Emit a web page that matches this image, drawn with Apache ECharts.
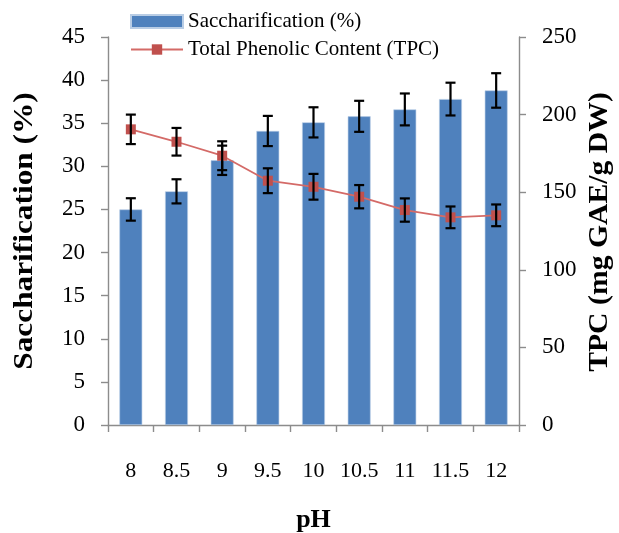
<!DOCTYPE html>
<html>
<head>
<meta charset="utf-8">
<script src="https://cdn.jsdelivr.net/npm/echarts@6/dist/echarts.min.js"></script>
<style>
html,body{margin:0;padding:0;background:#fff;}
#chart{width:619px;height:533px;}
</style>
</head>
<body>
<div id="chart"></div>
<script>
const categories = ['8','8.5','9','9.5','10','10.5','11','11.5','12'];
const saccharification = [25.0, 27.1, 30.7, 34.1, 35.1, 35.8, 36.6, 37.8, 38.8];
const saccharificationErr = [1.3, 1.4, 1.7, 1.75, 1.75, 1.8, 1.85, 1.9, 2.0];
const tpc = [190.5, 182.5, 173.5, 157.4, 153.5, 147.1, 138.5, 133.8, 135.1];
const tpcErr = [9.5, 8.9, 9.3, 8.0, 8.3, 7.5, 7.5, 7.0, 7.0];
const leftTicks = [0, 45, 5];
const rightTicks = [0, 250, 50];
const leftTitle = 'Saccharification (%)';
const rightTitle = 'TPC (mg GAE/g DW)';
const xTitle = 'pH';

const FONT = '"Liberation Serif", "Times New Roman", serif';

function errRenderer(params, api) {
  const x = api.value(0);
  const lo = api.coord([x, api.value(1)]);
  const hi = api.coord([x, api.value(2)]);
  const cap = 5;
  const style = {stroke: '#000', lineWidth: 2.2, fill: null};
  return {
    type: 'group',
    children: [
      {type: 'line', shape: {x1: lo[0], y1: lo[1], x2: hi[0], y2: hi[1]}, style: style},
      {type: 'line', shape: {x1: lo[0]-cap, y1: lo[1], x2: lo[0]+cap, y2: lo[1]}, style: style},
      {type: 'line', shape: {x1: hi[0]-cap, y1: hi[1], x2: hi[0]+cap, y2: hi[1]}, style: style}
    ]
  };
}

const barErrData = categories.map((c, i) => [i, saccharification[i] - saccharificationErr[i], saccharification[i] + saccharificationErr[i]]);
const tpcErrData = categories.map((c, i) => [i, tpc[i] - tpcErr[i], tpc[i] + tpcErr[i]]);

const axisLineStyle = {color: '#8c8c8c', width: 1.4};

const option = {
  animation: false,
  backgroundColor: '#fff',
  textStyle: {fontFamily: FONT},
  grid: {left: 108, right: 100, top: 37, bottom: 108, containLabel: false, outerBoundsMode: 'none'},
  legend: {
    orient: 'vertical',
    left: 125,
    top: 6,
    itemWidth: 52,
    itemHeight: 13,
    itemGap: 7,
    textStyle: {fontFamily: FONT, fontSize: 21, color: '#000'},
    data: [
      {name: 'Saccharification (%)', icon: 'rect'},
      {name: 'Total Phenolic Content (TPC)'}
    ]
  },
  graphic: [
    {
      type: 'text',
      x: 25, y: 231,
      rotation: Math.PI / 2,
      scaleX: 1.16,
      style: {text: leftTitle, font: 'bold 27px ' + FONT, fill: '#000', align: 'center', verticalAlign: 'middle'}
    },
    {
      type: 'text',
      x: 600, y: 232,
      rotation: Math.PI / 2,
      scaleX: 1.1,
      style: {text: rightTitle, font: 'bold 27px ' + FONT, fill: '#000', align: 'center', verticalAlign: 'middle'}
    }
  ],
  xAxis: {
    type: 'category',
    data: categories,
    boundaryGap: true,
    name: xTitle,
    nameLocation: 'middle',
    nameGap: 82,
    nameTextStyle: {fontFamily: FONT, fontSize: 26, fontWeight: 'bold', color: '#000'},
    axisLine: {show: true, lineStyle: axisLineStyle},
    axisTick: {show: true, alignWithLabel: false, length: 7, lineStyle: axisLineStyle},
    axisLabel: {fontFamily: FONT, fontSize: 22, color: '#000', margin: 35, interval: 0},
    splitLine: {show: false}
  },
  yAxis: [
    {
      type: 'value',
      min: leftTicks[0], max: leftTicks[1], interval: leftTicks[2],
      axisLine: {show: true, lineStyle: axisLineStyle},
      axisTick: {show: true, length: 7, lineStyle: axisLineStyle},
      axisLabel: {fontFamily: FONT, fontSize: 23, color: '#000', margin: 23},
      splitLine: {show: false}
    },
    {
      type: 'value',
      position: 'right',
      min: rightTicks[0], max: rightTicks[1], interval: rightTicks[2],
      axisLine: {show: true, lineStyle: axisLineStyle},
      axisTick: {show: true, length: 7, lineStyle: axisLineStyle},
      axisLabel: {fontFamily: FONT, fontSize: 23, color: '#000', margin: 23},
      splitLine: {show: false}
    }
  ],
  series: [
    {
      name: 'Saccharification (%)',
      type: 'bar',
      yAxisIndex: 0,
      data: saccharification,
      barWidth: '50%',
      itemStyle: {color: '#4F81BD', borderColor: '#B9CDE5', borderWidth: 0.6},
      z: 2
    },
    {
      name: 'barErr',
      type: 'custom',
      yAxisIndex: 0,
      renderItem: errRenderer,
      data: barErrData,
      z: 3,
      silent: true
    },
    {
      name: 'Total Phenolic Content (TPC)',
      type: 'line',
      yAxisIndex: 1,
      data: tpc,
      symbol: 'rect',
      symbolSize: 10,
      lineStyle: {color: '#D46A67', width: 1.8},
      itemStyle: {color: '#C0504D'},
      z: 4
    },
    {
      name: 'tpcErr',
      type: 'custom',
      yAxisIndex: 1,
      renderItem: errRenderer,
      data: tpcErrData,
      z: 5,
      silent: true
    }
  ]
};

const chart = echarts.init(document.getElementById('chart'), null, {renderer: 'canvas'});
chart.setOption(option);
</script>
</body>
</html>
